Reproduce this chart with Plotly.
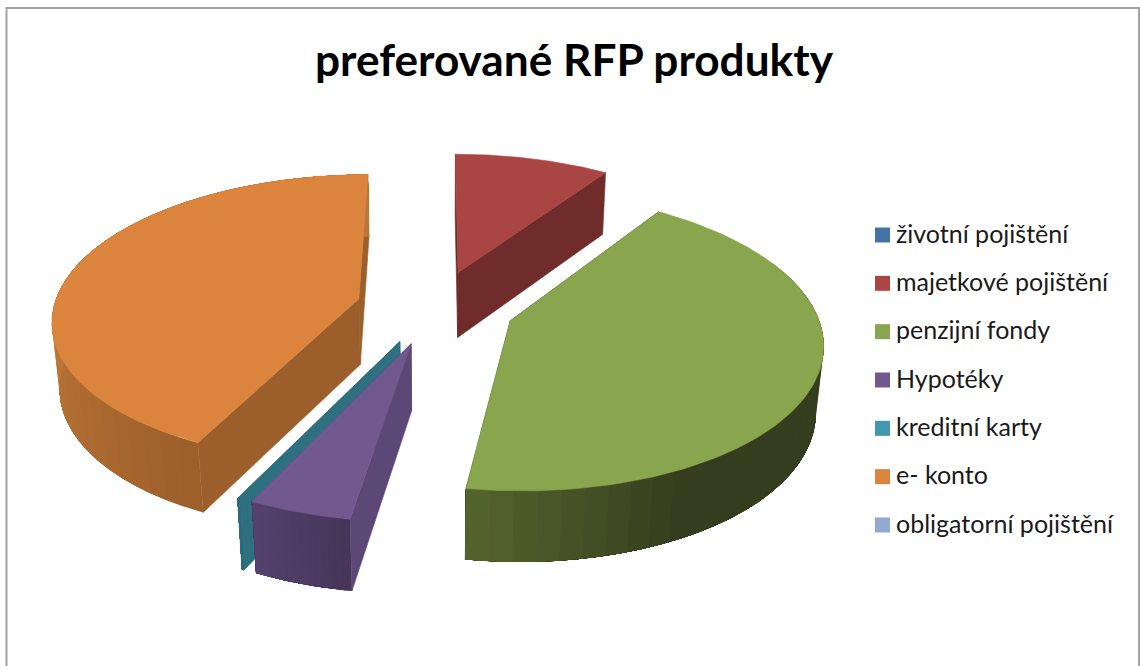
import numpy as np
import plotly.graph_objects as go

# Share of each product in percent, clockwise from twelve o'clock
categories = ["životní pojištění", "majetkové pojištění", "penzijní fondy", "Hypotéky",
              "kreditní karty", "e- konto", "obligatorní pojištění"]
values = [0, 9.5, 43.0, 4.6, 0.1, 42.8, 0]
title_text = "preferované RFP produkty"

legend_colors = ["#4572A7", "#AA4643", "#89A54E", "#71588F", "#4198AF", "#DB843D", "#93A9CF"]
top_colors = ["#4572A7", "#A94543", "#89A54E", "#71588F", "#2E6F80", "#DB843D", "#93A9CF"]
wall_colors = ["#2A4565", "#6F2C2B", "#363F1E", "#5C4876", "#2E6F80", "#9C5F2B", "#586680"]
# Rim shading runs from the dark colour to the light one over a span of degrees
rim_dark = ["#2A4565", "#6F2C2B", "#343D1D", "#473659", "#2E6F80", "#9C5F2B", "#586680"]
rim_light = ["#2A4565", "#6F2C2B", "#56662F", "#54416E", "#2E6F80", "#BC7635", "#586680"]
rim_ramp = [(0, 1), (0, 1), (152, 190), (190, 205), (0, 1), (206, 265), (0, 1)]

# Perspective model of the tilted pie, in page pixels
CX, CY = 435.5, 307.0
RX, RY = 305.0, 143.0
DEPTH_K = 0.135
HEIGHT = 66.0
HEIGHT_K = 0.065
BOTTOM_SHRINK = 0.02
EXPLODE = 0.26


def project(x, y, bottom=False):
    x, y = np.asarray(x, float), np.asarray(y, float)
    d = 1.0 if bottom else 0.0
    s = 1.0 / (1.0 + DEPTH_K * y)
    sx = 1.0 / (1.0 + DEPTH_K * y + BOTTOM_SHRINK * d)
    sh = 1.0 / (1.0 + HEIGHT_K * y)
    return CX + RX * x * sx, CY - RY * y * s + HEIGHT * d * sh


def hex_rgb(c):
    return np.array([int(c[i:i + 2], 16) for i in (1, 3, 5)], float)


def mix(a, b, t):
    v = hex_rgb(a) * (1 - t) + hex_rgb(b) * t
    return "rgb({:.0f},{:.0f},{:.0f})".format(*v)


fig = go.Figure()


def poly(xs, ys, color, name, outline=0.6):
    fig.add_trace(go.Scatter(x=list(xs), y=list(ys), mode="lines", fill="toself",
                             fillcolor=color, line=dict(color=color, width=outline),
                             name=name, showlegend=False, hoverinfo="name"))


def draw_slice(i, a0, a1):
    name = categories[i]
    mid = (a0 + a1) / 2
    ox, oy = EXPLODE * np.sin(mid), EXPLODE * np.cos(mid)
    ang = np.linspace(a0, a1, 120)
    rx, ry = ox + np.sin(ang), oy + np.cos(ang)

    # Cut faces first; rim and top face hide whichever one faces away
    for a in (a0, a1):
        ex, ey = ox + np.sin(a), oy + np.cos(a)
        tx, ty = project([ox, ex], [oy, ey])
        bx, by = project([ex, ox], [ey, oy], bottom=True)
        poly(np.r_[tx, bx, tx[0]], np.r_[ty, by, ty[0]], wall_colors[i], name)

    # Outer rim as narrow strips so the shading can vary along the arc.
    # Every strip runs on to the end of the arc and the next one paints over it,
    # which leaves no gaps between neighbours.
    edges = np.linspace(a0, a1, 41)
    lo, hi = rim_ramp[i]
    for k in range(40):
        if np.cos((edges[k] + edges[k + 1]) / 2) > 0.45:
            continue
        seg = np.linspace(edges[k], a1, 40 - k + 2)
        sx, sy = ox + np.sin(seg), oy + np.cos(seg)
        tx, ty = project(sx, sy)
        bx, by = project(sx[::-1], sy[::-1], bottom=True)
        deg = np.degrees((edges[k] + edges[k + 1]) / 2)
        t = float(np.clip((deg - lo) / (hi - lo), 0, 1))
        poly(np.r_[tx, bx, tx[0]], np.r_[ty, by, ty[0]], mix(rim_dark[i], rim_light[i], t), name, outline=0)

    # Top face
    tx, ty = project(np.r_[ox, rx, ox], np.r_[oy, ry, oy])
    poly(tx, ty, top_colors[i], name)


total = sum(values)
starts = np.radians(np.r_[0, np.cumsum(values)] / total * 360)
# Painter's order: back slices first, front slices over them
for i in (1, 5, 2, 4, 3):
    draw_slice(i, starts[i], starts[i + 1])

# Legend column
LEG_SWATCH_X, LEG_TEXT_X, LEG_Y0, LEG_STEP = 882.5, 896.0, 235.0, 48.33
for i, (cat, col) in enumerate(zip(categories, legend_colors)):
    y = LEG_Y0 + i * LEG_STEP
    fig.add_trace(go.Scatter(x=[LEG_SWATCH_X], y=[y], mode="markers",
                             marker=dict(symbol="square", size=15, color=col),
                             name=cat, showlegend=False, hoverinfo="name"))
    fig.add_trace(go.Scatter(x=[LEG_TEXT_X], y=[y + 1.5], mode="text", text=[cat],
                             textposition="middle right",
                             textfont=dict(family="Lato", size=25, color="#1a1a1a"),
                             showlegend=False, hoverinfo="skip"))

fig.update_layout(
    width=1140, height=666, margin=dict(l=0, r=0, t=0, b=0),
    paper_bgcolor="white", plot_bgcolor="white", autosize=False,
    title=dict(text=title_text, x=574 / 1140, xanchor="center", y=1 - 60.5 / 666, yanchor="middle",
               font=dict(family="Lato", size=44.2, color="black", weight="bold")),
    xaxis=dict(range=[0, 1140], visible=False, fixedrange=True),
    yaxis=dict(range=[666, 0], visible=False, fixedrange=True),
    # Chart frame; its bottom edge falls below the page
    shapes=[dict(type="rect", x0=6.5, y0=8, x1=1139, y1=690, xref="x", yref="y",
                 line=dict(color="#a3a3a3", width=2), layer="below")],
)
fig.write_html("out.html")
